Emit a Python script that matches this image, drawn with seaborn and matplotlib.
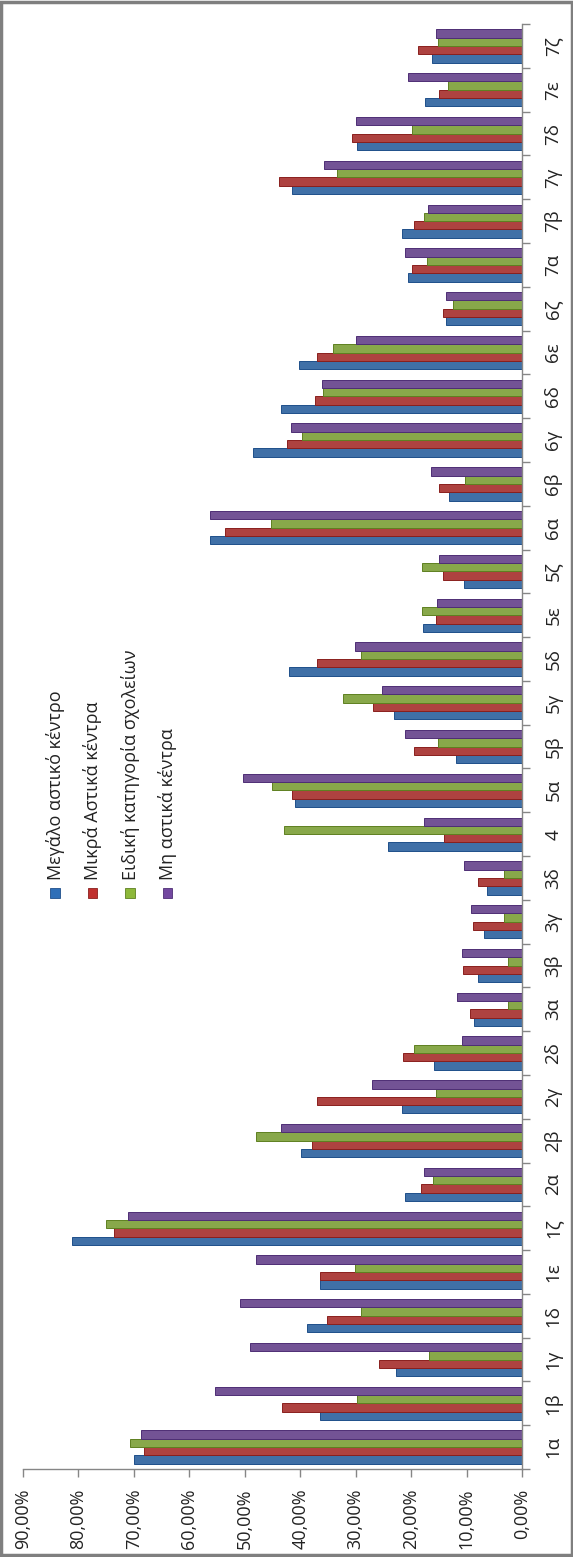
import seaborn as sns
import matplotlib.pyplot as plt
import matplotlib.patches as mpatches
from matplotlib.ticker import FixedLocator
import pandas as pd

categories = ["1α", "1β", "1γ", "1δ", "1ε", "1ζ", "2α", "2β", "2γ", "2δ",
              "3α", "3β", "3γ", "3δ", "4", "5α", "5β", "5γ", "5δ", "5ε", "5ζ",
              "6α", "6β", "6γ", "6δ", "6ε", "6ζ", "7α", "7β", "7γ", "7δ", "7ε", "7ζ"]

series = ["Μεγάλο αστικό κέντρο", "Μικρά Αστικά κέντρα",
          "Ειδική κατηγορία σχολείων", "Μη αστικά κέντρα"]

big_urban = [69.9, 36.5, 22.7, 38.7, 36.5, 81.1, 21.1, 39.8, 21.6, 15.8,
             8.7, 7.9, 6.9, 6.3, 24.2, 41.0, 12.0, 23.1, 42.0, 17.8, 10.4,
             56.2, 13.1, 48.6, 43.4, 40.3, 13.7, 20.6, 21.6, 41.4, 29.7, 17.5, 16.3]
small_urban = [68.2, 43.3, 25.8, 35.1, 36.5, 73.6, 18.2, 37.8, 37.0, 21.4,
               9.4, 10.7, 8.9, 7.9, 14.0, 41.4, 19.4, 26.9, 36.9, 15.5, 14.2,
               53.5, 15.0, 42.4, 37.4, 36.9, 14.3, 19.8, 19.4, 43.8, 30.7, 14.9, 18.7]
special = [70.7, 29.7, 16.8, 29.0, 30.2, 75.1, 16.0, 47.9, 15.5, 19.4,
           2.6, 2.6, 3.2, 3.2, 42.9, 45.1, 15.2, 32.2, 29.0, 18.1, 18.1,
           45.2, 10.2, 39.7, 35.9, 34.1, 12.4, 17.1, 17.6, 33.4, 19.8, 13.3, 15.2]
non_urban = [68.8, 55.4, 49.0, 50.8, 47.9, 71.1, 17.7, 43.4, 27.0, 10.8,
             11.7, 10.8, 9.2, 10.4, 17.7, 50.3, 21.1, 25.2, 30.1, 15.3, 15.0,
             56.2, 16.5, 41.7, 36.0, 29.9, 13.7, 21.1, 16.9, 35.7, 29.9, 20.6, 15.5]

xticks = [0, 10, 20, 30, 40, 50, 60, 70, 80, 90]
xtick_labels = ["0,00%", "10,00%", "20,00%", "30,00%", "40,00%",
                "50,00%", "60,00%", "70,00%", "80,00%", "90,00%"]

colors = ["#2F6FB8", "#C0302E", "#8DB83A", "#7348A0"]
edges = ["#1F4F8A", "#8A1F1D", "#5E8020", "#4E2E75"]

df = pd.DataFrame({
    "cat": categories * 4,
    "series": sum([[s] * len(categories) for s in series], []),
    "value": big_urban + small_urban + special + non_urban,
})

sns.set_style("white")
plt.rcParams["font.family"] = ["Open Sans", "DejaVu Sans"]

fig = plt.figure(figsize=(5.73, 15.57), dpi=100)
ax = fig.add_axes([0.0401, 0.0565, 0.871, 0.928])

sns.barplot(data=df, x="value", y="cat", hue="series", order=categories,
            hue_order=series, palette=colors, orient="h", width=0.76,
            legend=False, ax=ax)

# darker outline per series, like the shaded bars of the original
n = len(categories)
for i, patch in enumerate(ax.patches[:4 * n]):
    patch.set_edgecolor(edges[i // n])
    patch.set_linewidth(0.7)

ax.set_xlim(90, 0)
ax.set_ylim(-0.5, n - 0.5)
ax.set_xlabel("")
ax.set_ylabel("")

ax.set_xticks(xticks)
ax.set_xticklabels(xtick_labels, rotation=90, fontsize=13)
ax.yaxis.tick_right()
ax.set_yticks(range(n))
ax.set_yticklabels(categories, rotation=90, fontsize=13.5, va="center")
ax.yaxis.set_minor_locator(FixedLocator([i - 0.5 for i in range(n + 1)]))

axis_gray = "#868686"
for side in ["top", "left"]:
    ax.spines[side].set_visible(False)
for side in ["bottom", "right"]:
    ax.spines[side].set_color(axis_gray)
    ax.spines[side].set_linewidth(1.0)

ax.tick_params(axis="x", which="major", direction="out", length=6, width=1,
               color=axis_gray, pad=8, labelcolor="#222222", bottom=True)
ax.tick_params(axis="y", which="major", length=0, pad=16, labelcolor="#222222")
ax.tick_params(axis="y", which="minor", direction="out", length=6, width=1,
               color=axis_gray, right=True, left=False)

# legend, rotated like the rest of the chart
leg_x = [0.096, 0.161, 0.227, 0.293]
for name, col, ed, lx in zip(series, colors, edges, leg_x):
    fig.patches.append(mpatches.Rectangle((lx - 0.008, 0.4235), 0.016, 0.0062,
                                          transform=fig.transFigure,
                                          facecolor=col, edgecolor=ed, lw=0.6))
    fig.text(lx, 0.4345, name, rotation=90, ha="center", va="bottom",
             fontsize=13, color="#222222")

# outer frame
fig.patches.append(mpatches.Rectangle((0.002, 0.001), 0.996, 0.998,
                                      transform=fig.transFigure, fill=False,
                                      edgecolor="#7F7F7F", lw=2.5))

fig.savefig("out.png", dpi=100)
